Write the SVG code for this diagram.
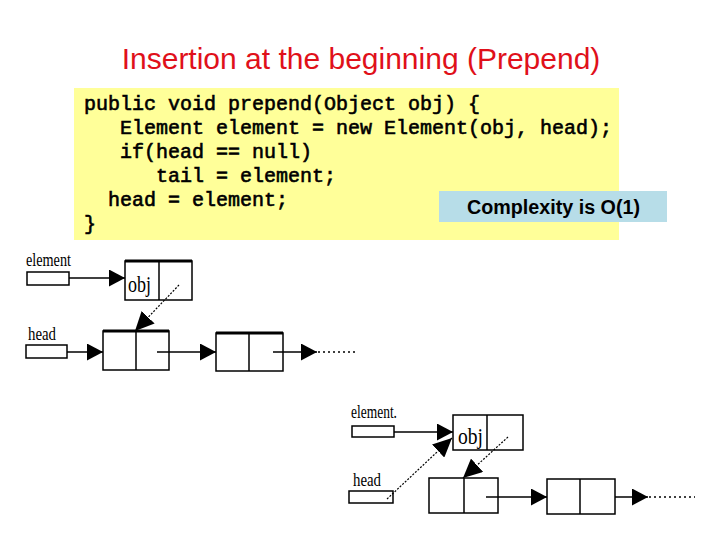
<svg xmlns="http://www.w3.org/2000/svg" width="720" height="540" viewBox="0 0 720 540">
<defs>
<style>
.title{font-family:"Liberation Sans",Arial,sans-serif;font-size:30px;fill:#E0101A}
.code{font-family:"Liberation Mono","Courier New",monospace;font-size:20px;fill:#000;stroke:#000;stroke-width:0.6}
.cx{font-family:"Liberation Sans",Arial,sans-serif;font-size:20px;font-weight:bold;fill:#000}
.lbl{font-family:"Liberation Serif","Times New Roman",serif;fill:#000}
.box{fill:#fff;stroke:#000;stroke-width:1.5}
.top{stroke:#000;stroke-width:3}
.div{stroke:#000;stroke-width:1.5}
.ptr{fill:#fff;stroke:#000;stroke-width:1.5}
.ln{stroke:#000;stroke-width:1.6;fill:none}
.dash{stroke:#000;stroke-width:1.2;fill:none;stroke-dasharray:2 1.5}
.dot{stroke:#000;stroke-width:1.6;fill:none;stroke-dasharray:2 3}
</style>
<marker id="ah" viewBox="0 0 10 10" refX="10" refY="5" markerUnits="userSpaceOnUse" markerWidth="16" markerHeight="17" orient="auto" preserveAspectRatio="none">
<path d="M0,0 L10,5 L0,10 z" fill="#000"/>
</marker>
<marker id="ahb" viewBox="0 0 10 10" refX="10" refY="5" markerUnits="userSpaceOnUse" markerWidth="19" markerHeight="18" orient="auto" preserveAspectRatio="none">
<path d="M0,0 L10,5 L0,10 z" fill="#000"/>
</marker>
</defs>
<rect width="720" height="540" fill="#fff"/>
<text class="title" x="361" y="69" text-anchor="middle">Insertion at the beginning (Prepend)</text>

<g id="code">
<rect x="74" y="88" width="545" height="152" fill="#FFFF99"/>
<text class="code" x="84" y="110">public void prepend(Object obj) {</text>
<text class="code" x="120" y="134">Element element = new Element(obj, head);</text>
<text class="code" x="120" y="158">if(head == null)</text>
<text class="code" x="156" y="182">tail = element;</text>
<text class="code" x="108" y="206">head = element;</text>
<text class="code" x="84" y="230">}</text>
</g>
<g id="complexity">
<rect x="439" y="191" width="228" height="31" fill="#B7DDE8"/>
<text class="cx" x="467" y="214" textLength="173" lengthAdjust="spacingAndGlyphs">Complexity is O(1)</text>
</g>

<!-- Diagram 1 -->
<g id="d1-element">
<text class="lbl" x="26" y="266" font-size="18" textLength="45" lengthAdjust="spacingAndGlyphs">element</text>
<rect class="ptr" x="27" y="272" width="42" height="13"/>
</g>
<g id="d1-head">
<text class="lbl" x="28" y="340" font-size="19" textLength="28" lengthAdjust="spacingAndGlyphs">head</text>
<rect class="ptr" x="26" y="345" width="41" height="13"/>
</g>
<g id="d1-obj">
<rect class="box" x="125" y="261" width="67" height="39"/>
<line class="top" x1="125" y1="261" x2="192" y2="261"/>
<line class="div" x1="159" y1="261" x2="159" y2="300"/>
<text class="lbl" x="128" y="292" font-size="23" textLength="23" lengthAdjust="spacingAndGlyphs">obj</text>
</g>
<g id="d1-node2">
<rect class="box" x="103" y="331" width="66" height="39"/>
<line class="top" x1="103" y1="331" x2="169" y2="331"/>
<line class="div" x1="136" y1="331" x2="136" y2="370"/>
</g>
<g id="d1-node3">
<rect class="box" x="216" y="333" width="67" height="38"/>
<line class="top" x1="216" y1="333" x2="283" y2="333"/>
<line class="div" x1="249" y1="333" x2="249" y2="371"/>
</g>

<!-- Diagram 2 -->
<g id="d2-element">
<text class="lbl" x="351" y="418" font-size="18" textLength="46" lengthAdjust="spacingAndGlyphs">element.</text>
<rect class="ptr" x="352" y="426" width="42" height="11"/>
</g>
<g id="d2-head">
<text class="lbl" x="353" y="486" font-size="19" textLength="28" lengthAdjust="spacingAndGlyphs">head</text>
<rect class="ptr" x="349" y="491" width="44" height="12"/>
</g>
<g id="d2-obj">
<rect class="box" x="453" y="415" width="70" height="35"/>
<line class="div" x1="487" y1="415" x2="487" y2="450"/>
<text class="lbl" x="458" y="444" font-size="23" textLength="25" lengthAdjust="spacingAndGlyphs">obj</text>
</g>
<g id="d2-node2">
<rect class="box" x="429" y="478" width="69" height="35"/>
<line class="div" x1="464" y1="478" x2="464" y2="513"/>
</g>
<g id="d2-node3">
<rect class="box" x="547" y="479" width="68" height="35" stroke-width="2.5"/>
<line class="div" x1="580" y1="479" x2="580" y2="514"/>
</g>

<g id="connectors">
<line class="ln" x1="69" y1="278" x2="125" y2="278" marker-end="url(#ah)"/>
<line class="dash" x1="179" y1="285" x2="135" y2="331" marker-end="url(#ahb)"/>
<line class="ln" x1="67" y1="352" x2="103" y2="352" marker-end="url(#ah)"/>
<line class="ln" x1="157" y1="352" x2="216" y2="352" marker-end="url(#ah)"/>
<line class="ln" x1="273" y1="352" x2="317" y2="352" marker-end="url(#ah)"/>
<line class="dot" x1="318" y1="352" x2="358" y2="352"/>

<line class="ln" x1="394" y1="432" x2="453" y2="432" marker-end="url(#ah)"/>
<line class="dash" x1="387" y1="499" x2="452" y2="438" marker-end="url(#ahb)"/>
<line class="dash" x1="508" y1="437" x2="463" y2="478" marker-end="url(#ahb)"/>
<line class="ln" x1="486" y1="497" x2="547" y2="497" marker-end="url(#ah)"/>
<line class="ln" x1="615" y1="497" x2="648" y2="497" marker-end="url(#ah)"/>
<line class="dot" x1="649" y1="497" x2="695" y2="497"/>
</g>
</svg>
